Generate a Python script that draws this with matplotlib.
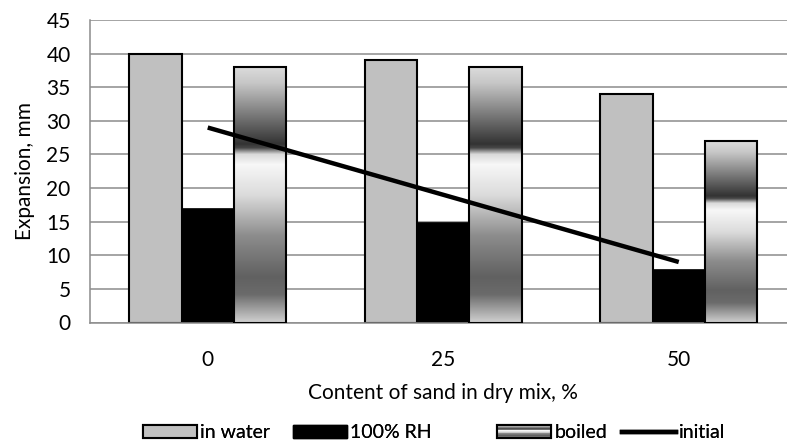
import numpy as np
import matplotlib
matplotlib.use("Agg")
import matplotlib.pyplot as plt
from matplotlib.colors import LinearSegmentedColormap
from matplotlib.patches import Rectangle
from matplotlib.lines import Line2D
from matplotlib.legend_handler import HandlerBase

plt.rcParams['font.family'] = ['Lato', 'DejaVu Sans']

categories = ['0', '25', '50']
in_water = [40, 39, 34]
rh100 = [17, 15, 8]
boiled = [38, 38, 27]
initial = [29, 19, 9]

# gray gradient of the "boiled" fill, top -> bottom
grad = LinearSegmentedColormap.from_list('boiled', [
    (0.00, (0.86, 0.86, 0.86)),
    (0.06, (0.78, 0.78, 0.78)),
    (0.30, (0.20, 0.20, 0.20)),
    (0.315, (0.28, 0.28, 0.28)),
    (0.34, (0.85, 0.85, 0.85)),
    (0.38, (0.97, 0.97, 0.97)),
    (0.50, (0.86, 0.86, 0.86)),
    (0.66, (0.55, 0.55, 0.55)),
    (0.82, (0.38, 0.38, 0.38)),
    (0.89, (0.42, 0.42, 0.42)),
    (1.00, (0.82, 0.82, 0.82)),
])

fig = plt.figure(figsize=(7.87, 4.46), dpi=100)
ax = fig.add_axes([90 / 787, 1 - 322.5 / 446, 706.5 / 787, 302.5 / 446])

x = np.arange(len(categories))
w = 0.222
ax.bar(x - w, in_water, w, color='#c0c0c0', edgecolor='black', linewidth=1.5, zorder=2)
ax.bar(x, rh100, w, color='black', edgecolor='black', linewidth=0.5, zorder=2)

grad_img = np.linspace(0, 1, 256).reshape(-1, 1)
for xi, v in zip(x, boiled):
    left = xi + w / 2
    ax.imshow(grad_img, cmap=grad, vmin=0, vmax=1, aspect='auto',
              extent=[left, left + w, 0, v], origin='upper', zorder=2,
              interpolation='bilinear')
    ax.add_patch(Rectangle((left, 0), w, v, facecolor='none', edgecolor='black',
                           linewidth=1.5, zorder=3))

ax.plot(x, initial, color='black', linewidth=3.2, solid_capstyle='butt', zorder=4)

ax.set_xlim(-0.5, 2.5)
ax.set_ylim(0, 45)
ax.set_yticks(range(0, 46, 5))
ax.set_xticks(x)
ax.set_xticklabels(categories)
ax.tick_params(axis='both', length=0, labelsize=15, colors='black')
ax.tick_params(axis='x', pad=20)
ax.tick_params(axis='y', pad=14)
ax.grid(axis='y', color='#8c8c8c', linewidth=1.1, zorder=0)
ax.set_axisbelow(True)
for s in ['top', 'right']:
    ax.spines[s].set_visible(False)
for s in ['left', 'bottom']:
    ax.spines[s].set_color('#8c8c8c')
    ax.spines[s].set_linewidth(1.1)
ax.set_ylabel('Expansion, mm', fontsize=15, labelpad=8)
ax.set_xlabel('Content of sand in dry mix, %', fontsize=15, labelpad=9)


class GradHandler(HandlerBase):
    def create_artists(self, legend, orig_handle, xdescent, ydescent, width, height, fontsize, trans):
        arts = []
        n = 14
        for i in range(n):
            c = grad((i + 0.5) / n)
            arts.append(Rectangle((-xdescent, -ydescent + height * (1 - (i + 1) / n)), width, height / n,
                                  facecolor=c, edgecolor='none', transform=trans))
        arts.append(Rectangle((-xdescent, -ydescent), width, height, facecolor='none',
                              edgecolor='black', linewidth=1.5, transform=trans))
        return arts


handles = [
    Rectangle((0, 0), 1, 1, facecolor='#c0c0c0', edgecolor='black', linewidth=1.5),
    Rectangle((0, 0), 1, 1, facecolor='black', edgecolor='black'),
    Rectangle((0, 0), 1, 1, facecolor='white'),
    Line2D([], [], color='black', linewidth=3.2),
]
labels = ['in water', '100% RH', 'boiled', 'initial']
starts = [143, 293, 497, 622]
for h, lab, sx in zip(handles, labels, starts):
    hm = {h: GradHandler()} if lab == 'boiled' else None
    leg = fig.legend([h], [lab], loc='center left', bbox_to_anchor=(sx / 787, 1 - 433 / 446),
                     frameon=False, fontsize=14, handlelength=2.8, handleheight=0.62,
                     handletextpad=0.15, borderpad=0, borderaxespad=0, handler_map=hm)
    fig.add_artist(leg)

fig.savefig('out.png', dpi=100)
